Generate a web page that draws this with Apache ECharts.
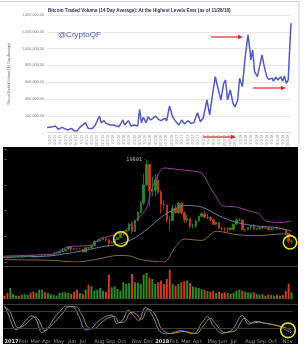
<!DOCTYPE html>
<html>
<head>
<meta charset="utf-8">
<script src="https://cdn.jsdelivr.net/npm/echarts@6/dist/echarts.min.js"></script>
<style>
html,body{margin:0;padding:0;background:#fff;}
#main{width:304px;height:344px;}
</style>
</head>
<body>
<div id="main"></div>
<script>
// top panel: 14 day average traded volume (thousands of BTC), x = weeks from start
var volWeek = [0,2,6,9,12,16,19,22,26,29,32,35,37,41,44,46,48,51,53,56,58,61,63,67,71,74,77,81,83,87,90,93,97,99,101,103,106,108,111,113,116,119,122,126,128,131,134,137,141,144,147,151,154,157,161,164,167,171,174,177,180,182,186,189,191,193,196,199,201,204,206,209,211,212,215,217,218,220,222,225,227,230,232,235,237,241,242,245,247,250,252,254,256,258,259,261];
var volAvg = [63,40,71,79,40,63,48,32,52,24,20,63,40,119,52,71,48,79,63,198,119,143,111,91,91,79,71,151,91,143,79,91,79,278,119,183,119,190,151,159,198,159,143,171,143,317,198,143,91,151,103,143,111,119,238,131,171,389,211,449,667,567,389,588,627,389,508,349,306,389,647,548,786,905,1163,984,865,984,726,667,687,925,806,667,635,647,615,659,627,667,611,675,587,627,865,1302];
var topTitle = 'Bitcoin Traded Volume (14 Day Average): At the Highest Levels Ever (as of 11/28/18)';
var topTickLabels = [];
for (var m = 0; m < 46; m++) {
    topTickLabels.push(((m % 12) + 1) + '/1/' + (15 + Math.floor(m / 12)));
}

// bottom panel: weekly BTC candles Jan 2017 - Nov 2018
var priceOpen = [998,908,820,920,998,1018,995,1050,1180,1270,
    1230,970,1040,1120,1200,1180,1250,1420,1720,1800,
    2050,2200,2520,2950,2590,2550,2500,2500,1930,2760,
    2750,3230,4060,4090,4360,4580,4330,3680,3790,4370,
    4770,5700,6000,6140,7400,5950,8000,9700,11500,15000,
    19000,13900,14000,16000,13600,11200,11100,8200,8100,10400,
    9600,11400,9500,8200,8500,6900,6900,8000,8900,9400,
    8700,8700,8200,7350,7700,6550,6450,6400,6600,6350,
    7350,8200,8200,6300,6300,6700,7000,6400,6500,6700,
    6600,6600,6300,6450,6500,6400,6400,6300,5600,4000];
var priceClose = [908,820,920,998,1018,995,1050,1180,1270,1230,
    970,1040,1120,1200,1180,1250,1420,1720,1800,2050,
    2200,2520,2950,2590,2550,2500,2500,1930,2760,2750,
    3230,4060,4090,4360,4580,4330,3680,3790,4370,4770,
    5700,6000,6140,7400,5950,8000,9700,11500,15000,19000,
    13900,14000,16000,13600,11200,11100,8200,8100,10400,9600,
    11400,9500,8200,8500,6900,6900,8000,8900,9400,8700,
    8700,8200,7350,7700,6550,6450,6400,6600,6350,7350,
    8200,8200,6300,6300,6700,7000,6400,6500,6700,6600,
    6600,6300,6450,6500,6400,6400,6300,5600,4000,4100];
var priceLow = [880,750,800,890,960,930,980,1040,1150,1000,
    950,890,1000,1100,1160,1170,1240,1400,1650,1700,
    1950,2100,2450,2100,2450,2300,2450,1840,1900,2450,
    2700,3180,3900,3990,4300,4050,2970,3600,3800,4250,
    4750,5100,5500,6100,5500,5850,7950,9450,11100,14800,
    10800,12800,12700,13100,9400,10200,7700,6000,8000,9400,
    9400,9300,7600,7700,6600,6450,6700,7900,8800,8650,
    8300,7900,7200,7100,6450,6130,5800,5800,6100,6100,
    7300,7850,6150,5900,6200,6300,6300,6150,6250,6350,
    6500,6150,6180,6400,6300,6300,6200,5200,3600,3500];
var priceHigh = [1160,910,935,1000,1045,1070,1060,1200,1290,1280,
    1260,1060,1150,1210,1220,1270,1430,1740,1860,2100,
    2760,2540,2980,2990,2800,2600,2650,2530,2900,2830,
    3300,4200,4480,4460,4980,4690,4350,4100,4420,4800,
    5860,6070,6190,7600,7880,8100,9750,11800,17200,19891,
    19100,16600,17200,17100,14000,12000,11200,9000,11100,11200,
    11700,11600,9900,9200,8500,7500,8300,9000,9750,9900,
    9400,8900,8500,7800,7750,6800,6800,6700,6800,7450,
    8480,8500,8200,6450,6800,7050,7400,6550,6850,6800,
    6700,6700,6750,6600,6550,6550,6600,6400,5600,4400];
var weekVolume = [10,18,33,15,10,10,12,14,12,18,
    22,18,28,28,20,18,14,12,10,18,
    20,20,18,15,22,28,18,15,28,43,
    38,25,28,33,25,22,73,35,38,30,
    25,50,45,48,75,50,48,45,73,78,
    63,60,45,50,55,45,60,88,45,40,
    45,50,53,55,48,38,35,33,30,28,
    24,22,25,18,22,18,20,18,15,18,
    25,28,25,22,20,18,20,15,12,14,
    10,14,12,10,12,10,12,25,46,20];

// bollinger bands: [week, price]
var bandUpper = [[0,1150],[8,1300],[12,1400],[16,1500],[19,2100],[22,3000],[26,3100],[30,3300],[33,4500],[36,5000],[40,5600],[42,6300],[44,7500],[47,9000],[49,10500],[51,14500],[53,17000],[55,18300],[60,18000],[65,17700],[68,17300],[71,14500],[73,12700],[75,11000],[80,10700],[84,10000],[88,9300],[90,8000],[96,7700],[99,8000]];
var bandMid = [[0,950],[10,1050],[16,1200],[22,1700],[28,2300],[34,3000],[39,3400],[44,4400],[49,6300],[54,8700],[59,10400],[62,11000],[68,10700],[74,9000],[80,7700],[87,7000],[94,6700],[99,6000]];
var bandLower = [[0,470],[8,400],[16,330],[25,0],[33,670],[39,1270],[43,1200],[47,470],[55,0],[59,3000],[62,4470],[68,4200],[73,6000],[80,5330],[87,5130],[96,5470],[99,5300]];

// stochastic oscillator: [week, value]
var stochK = [[0,100],[1,80],[3,25],[4,15],[5.5,25],[8,55],[9.5,65],[11,50],[13,5],[15,22],[17,55],[19.5,85],[21.3,100],[23.5,98],[25.8,60],[28,15],[30,20],[32,42],[34.5,60],[37,68],[38.8,38],[40.6,48],[42.8,85],[44.6,65],[46.3,48],[48.6,95],[50.5,75],[52,45],[53.5,10],[56.3,0],[61,12],[65,0],[68,38],[70,62],[72,30],[75,3],[78.5,15],[82,65],[84.3,35],[86.6,45],[90,38],[94,30],[97,15],[99,3]];
var stochD = [[0,97],[1.7,83],[3.5,39],[4.7,22],[6.4,28],[8.7,48],[10.5,61],[11.7,52],[14,11],[15.7,26],[18,50],[20.4,78],[22,97],[24.5,97],[26.8,67],[29,22],[31,19],[33,37],[35.5,56],[37.9,63],[39.6,41],[41.4,44],[43.7,78],[45.5,70],[47.2,52],[49.5,89],[51.3,78],[52.6,56],[54.3,17],[57.2,2],[61.9,9],[66,2],[68.9,33],[71,56],[73,33],[75.9,6],[79.4,11],[82.9,56],[85.2,39],[87.5,42],[91,36],[95,28],[98,17],[99,8]];
var oscLevels = [80, 22];

var monthWeeks = [0,5,9,13,17,22,26,31,35,39,44,48,52,57,61,65,70,74,78,83,87,91,96];
var monthNames = ['2017','Feb','Mar','Apr','May','Jun','Jul','Aug','Sep','Oct','Nov','Dec','2018','Feb','Mar','Apr','May','Jun','Jul','Aug','Sep','Oct','Nov'];

var weekCats = [], monthCats = [];
for (var i = 0; i < priceOpen.length; i++) { weekCats.push(String(i)); monthCats.push(''); }
monthWeeks.forEach(function (w, k) { monthCats[w] = monthNames[k]; });

var topLine = volWeek.map(function (w, k) { return [w, volAvg[k] * 1000]; });
var candles = priceOpen.map(function (o, k) { return [o, priceClose[k], priceLow[k], priceHigh[k]]; });

var UP = '#2a8a2a', DOWN = '#cc3b1c', RED = '#e3262b', YEL = '#f2e21a';

function arrow(x1, x2, y) {
    return [
        { type: 'line', z: 100, shape: { x1: x1, y1: y, x2: x2 - 3, y2: y }, style: { stroke: RED, lineWidth: 1.2 } },
        { type: 'polygon', z: 100, shape: { points: [[x2, y], [x2 - 5, y - 2.2], [x2 - 5, y + 2.2]] }, style: { fill: RED } }
    ];
}
function ring(cx, cy, r) {
    return { type: 'circle', z: 100, shape: { cx: cx, cy: cy, r: r }, style: { fill: null, stroke: YEL, lineWidth: 1.6 } };
}

var graphics = [
    { type: 'polyline', z: 1, shape: { points: [[0, 1.5], [299, 1.5], [299, 144]] }, style: { stroke: '#d0d0d0', lineWidth: 1, fill: null } },
    { type: 'rect', z: 0, shape: { x: 3, y: 147, width: 295, height: 197 }, style: { fill: '#000' } },
    { type: 'line', z: 1, shape: { x1: 3, y1: 266.5, x2: 298, y2: 266.5 }, style: { stroke: '#3a3a3a', lineWidth: 1 } },
    { type: 'line', z: 1, shape: { x1: 3, y1: 304.5, x2: 298, y2: 304.5 }, style: { stroke: '#3a3a3a', lineWidth: 1 } },
    ring(120.8, 239, 7.2), ring(290, 242.3, 6.7), ring(288, 330.3, 7.3)
].concat(arrow(211, 243, 37), arrow(253, 286, 88), arrow(203, 236, 137));

var chart = echarts.init(document.getElementById('main'));
chart.setOption({
    backgroundColor: '#fff',
    animation: false,
    title: [
        { text: topTitle, left: 48, top: 8, padding: 0, textStyle: { fontSize: 4.6, fontWeight: 'bold', color: '#25305e', fontFamily: 'Liberation Sans' } },
        { text: '@CryptoQF', left: 58, top: 31, padding: 0, textStyle: { fontSize: 8, fontWeight: 'normal', color: '#4b56a8', fontFamily: 'Liberation Sans' } }
    ],
    graphic: graphics,
    grid: [
        { left: 29, right: 13, top: 15, height: 117.7 },
        { left: 3, right: 11, top: 149, height: 113 },
        { left: 3, right: 11, top: 268, height: 31 },
        { left: 3, right: 11, top: 306, height: 28 }
    ],
    xAxis: [
        { type: 'category', gridIndex: 0, data: topTickLabels,
          axisLine: { lineStyle: { color: '#d8d8d8' } }, axisTick: { show: false },
          axisLabel: { rotate: 90, interval: 0, fontSize: 3.6, color: '#8a8a8a', margin: 2, fontFamily: 'Liberation Sans' } },
        { type: 'value', gridIndex: 0, min: 0, max: 261, show: false },
        { type: 'category', gridIndex: 1, data: weekCats, show: false },
        { type: 'value', gridIndex: 1, min: -0.5, max: 99.5, show: false },
        { type: 'category', gridIndex: 2, data: weekCats, show: false },
        { type: 'category', gridIndex: 3, data: monthCats,
          axisLine: { show: false }, axisTick: { show: false },
          axisLabel: { interval: 0, align: 'left', fontSize: 5, color: '#9a9a9a', margin: 5, fontFamily: 'DejaVu Sans',
              formatter: function (v) { return /^20/.test(v) ? '{y|' + v + '}' : v; },
              rich: { y: { fontSize: 5, fontWeight: 'bold', color: '#e0e0e0', fontFamily: 'DejaVu Sans' } } } },
        { type: 'value', gridIndex: 3, min: -0.5, max: 99.5, show: false }
    ],
    yAxis: [
        { type: 'value', gridIndex: 0, min: 0, max: 1400000, interval: 200000,
          name: 'Bitcoin Traded Volume (14 Day Average)', nameLocation: 'middle', nameGap: 22, nameRotate: 90,
          nameTextStyle: { fontSize: 3.4, color: '#666', fontFamily: 'Liberation Sans' },
          axisLine: { show: false }, axisTick: { show: false },
          axisLabel: { fontSize: 3.8, color: '#7a7a7a', margin: 3, fontFamily: 'Liberation Sans',
              formatter: function (v) { return v === 0 ? '-' : v.toLocaleString('en-US') + '.00'; } },
          splitLine: { lineStyle: { color: '#e6e6e6', width: 1 } } },
        { type: 'value', gridIndex: 1, min: 0, max: 22000, interval: 5000, position: 'right',
          axisLine: { show: false }, axisTick: { show: true, length: 2, lineStyle: { color: '#777' } },
          axisLabel: { show: false }, splitLine: { show: false } },
        { type: 'value', gridIndex: 2, min: 0, max: 93, show: false },
        { type: 'value', gridIndex: 3, min: 0, max: 100, show: false }
    ],
    series: [
        { type: 'line', xAxisIndex: 1, yAxisIndex: 0, data: topLine, showSymbol: false,
          lineStyle: { color: '#5259c6', width: 1.5 } },
        { type: 'candlestick', xAxisIndex: 2, yAxisIndex: 1, data: candles, barWidth: 2,
          itemStyle: { color: UP, color0: DOWN, borderColor: UP, borderColor0: DOWN, borderWidth: 0.8 },
          markPoint: { symbol: 'circle', symbolSize: 0, silent: true,
              data: [{ type: 'max', valueDim: 'highest' }],
              label: { show: true, position: 'left', distance: 1, formatter: '19891 -', fontSize: 5, color: '#bdbdbd', fontFamily: 'DejaVu Sans' } } },
        { type: 'line', xAxisIndex: 3, yAxisIndex: 1, data: bandUpper, smooth: 0.3, showSymbol: false,
          lineStyle: { color: '#93409a', width: 1 } },
        { type: 'line', xAxisIndex: 3, yAxisIndex: 1, data: bandMid, smooth: 0.3, showSymbol: false,
          lineStyle: { color: '#62829c', width: 1 } },
        { type: 'line', xAxisIndex: 3, yAxisIndex: 1, data: bandLower, smooth: 0.3, showSymbol: false,
          lineStyle: { color: '#8c6a34', width: 1 } },
        { type: 'bar', xAxisIndex: 4, yAxisIndex: 2, data: weekVolume, barWidth: 2,
          itemStyle: { color: function (p) { return priceClose[p.dataIndex] >= priceOpen[p.dataIndex] ? UP : DOWN; } } },
        { type: 'line', xAxisIndex: 6, yAxisIndex: 3, data: stochK, smooth: 0.4, showSymbol: false,
          lineStyle: { color: '#6f93b4', width: 1 },
          markLine: { silent: true, symbol: 'none', label: { show: false },
              lineStyle: { color: '#3c3c3c', type: 'solid', width: 1 },
              data: oscLevels.map(function (v) { return { yAxis: v }; }) } },
        { type: 'line', xAxisIndex: 6, yAxisIndex: 3, data: stochD, smooth: 0.4, showSymbol: false,
          lineStyle: { color: '#b38a4c', width: 1 } }
    ]
});
</script>
</body>
</html>
